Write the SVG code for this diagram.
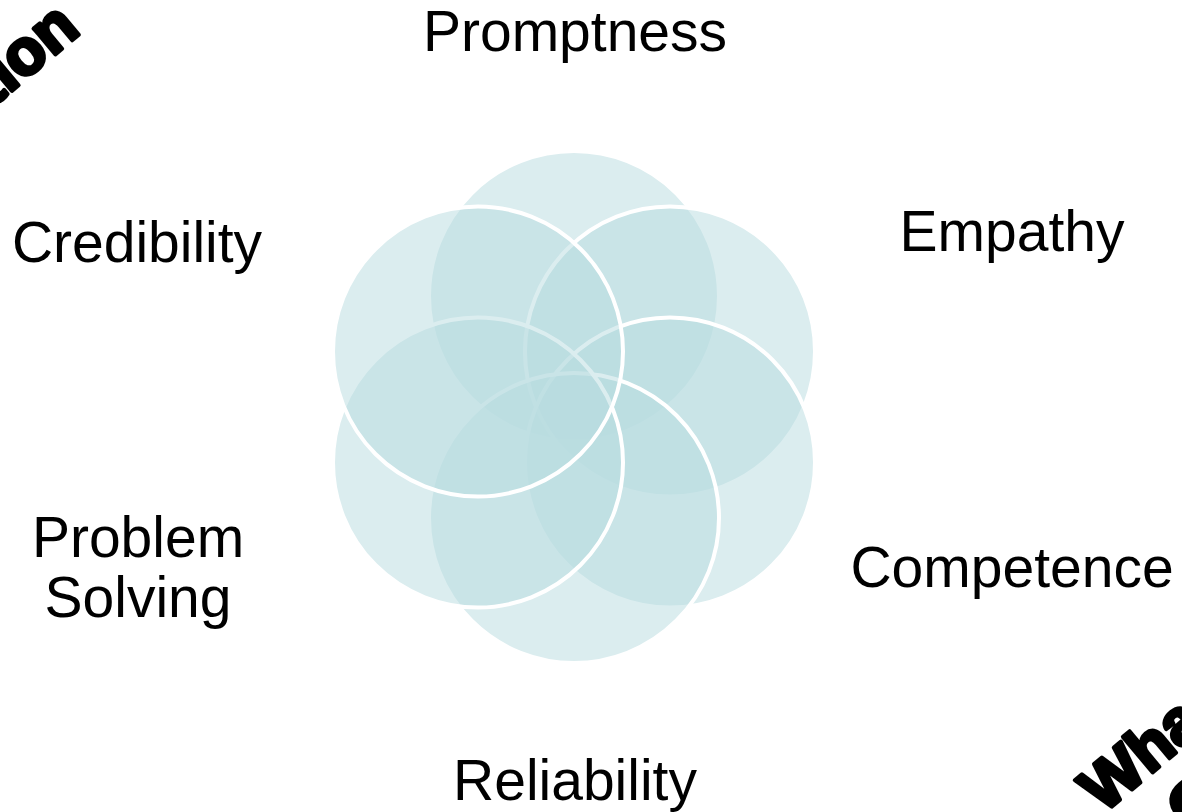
<svg xmlns="http://www.w3.org/2000/svg" width="1182" height="812" viewBox="0 0 1182 812">
<style>
.c{fill:#b8dbe0;fill-opacity:0.5;stroke:#ffffff;stroke-width:4}
.lbl{font-family:"Liberation Sans",Arial,sans-serif;font-size:57px;fill:#000000;text-anchor:middle}
.big{font-family:"Liberation Sans",Arial,sans-serif;font-size:64px;font-weight:900;fill:#000000;stroke:#000;stroke-width:4;stroke-linejoin:round}
</style>
<rect width="1182" height="812" fill="#ffffff"/>
<g id="corner-text">
<text class="big" transform="translate(82,32) rotate(-40)" text-anchor="end">tion</text>
<text class="big" transform="translate(1103,814) rotate(-40)">Wha</text>
<text class="big" transform="translate(1190,834) rotate(-40)">C</text>
</g>
<g id="connectors"></g>
<g id="node-promptness"><circle class="c" cx="574" cy="296" r="145"/></g>
<g id="node-empathy"><circle class="c" cx="670" cy="351.5" r="145"/></g>
<g id="node-competence"><circle class="c" cx="670" cy="462.5" r="145"/></g>
<g id="node-reliability"><circle class="c" cx="574" cy="518" r="145"/></g>
<g id="node-problem-solving"><circle class="c" cx="478" cy="462.5" r="145"/></g>
<g id="node-credibility"><circle class="c" cx="478" cy="351.5" r="145"/></g>
<g id="labels">
<text class="lbl" x="575" y="51">Promptness</text>
<text class="lbl" x="1012" y="251">Empathy</text>
<text class="lbl" x="1012" y="587">Competence</text>
<text class="lbl" x="575" y="800">Reliability</text>
<text class="lbl" x="138" y="557">Problem</text>
<text class="lbl" x="138" y="617">Solving</text>
<text class="lbl" x="137" y="262">Credibility</text>
</g>
</svg>
